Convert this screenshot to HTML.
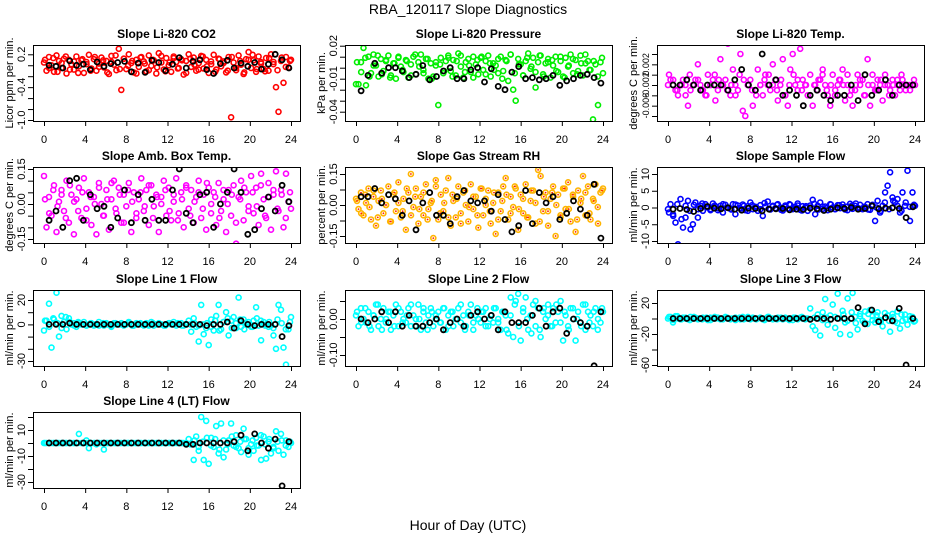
<!DOCTYPE html>
<html><head><meta charset="utf-8"><title>RBA_120117 Slope Diagnostics</title>
<style>
html,body{margin:0;padding:0;background:#fff;}
svg{display:block;font-family:"Liberation Sans",Arial,sans-serif;}
</style></head>
<body>
<svg id="chart" width="936" height="540" viewBox="0 0 936 540" xmlns="http://www.w3.org/2000/svg">
<text x="468" y="14" font-size="14" text-anchor="middle">RBA_120117  Slope Diagnostics</text>
<text x="468" y="530" font-size="14" text-anchor="middle">Hour of Day (UTC)</text>
</svg>
<script>
// ---- shared x ticks ----
const xTicks = [0,4,8,12,16,20,24];

// ---- panel 1: CO2 ----
const co2Values = [0.05,-0.1,0.15,0,-0.12,0.18,0.08,-0.05,0.12,-0.15,0.1,0.02,-0.08,0.16,-0.02,0.09,-0.14,0.06,0.19,-0.06,0.11,-0.1,0.03,0.14,-0.04,0.08,-0.16,0.17,0.01,-0.09,0.3,-0.45,0.12,-0.07,0.2,0.04,-0.13,0.1,-0.03,0.15,0.07,-0.11,0.18,-0.01,0.09,-0.15,0.22,0.05,-0.08,0.13,0,-0.12,0.16,0.06,-0.05,0.11,-0.17,0.08,0.2,-0.03,0.14,-0.1,0.04,0.17,-0.06,0.1,-0.14,0.02,0.19,-0.08,0.12,-0.02,0.07,-0.13,0.15,-0.95,0.05,-0.09,0.18,0.01,-0.16,0.11,0.24,-0.05,0.09,-0.12,0.16,0.03,-0.07,0.13,-0.1,0.2,0.06,-0.4,-0.85,0.08,-0.32,0.15,-0.04,0.1];
const co2Values2 = [0.1,-0.05,0.13,-0.12,0.04,0.16,-0.08,0.07,-0.14,0.11,0.02,-0.1,0.15,-0.03,0.09,-0.13,0.06,0.18,-0.07,0.12,-0.01,0.08,-0.15,0.14,0.03,-0.09,0.1,-0.04,0.17,-0.11,0.05,0.13,-0.06,0.09,-0.14,0.12,0.01,-0.08,0.16,-0.02,0.07,-0.12,0.11,0.04,-0.1,0.15,-0.05,0.08,-0.13,0.1,0.19,-0.07,0.06,-0.11,0.13,0.02,-0.09,0.14,-0.03,0.08];
const co2Black = [0,-0.02,-0.05,0.08,0,0.02,-0.08,0.06,-0.02,0.03,0.05,0.07,-0.12,0.04,-0.13,0.09,0.05,-0.1,0.02,0.14,-0.05,0.07,0.1,-0.08,-0.15,0.03,0.09,-0.05,0.04,-0.02,0.05,-0.07,0.02,0.2,0.1,-0.05];
const co2Ticks = [0.2,0,-0.2,-0.4,-0.6,-0.8,-1.0];
const co2TickLabels = ["0.2","-0.4","-1.0"];

// ---- panel 2: Pressure ----
const presValues = [-0.015,-0.015,0.005,0.018,-0.016,0.01,-0.005,0.012,0.002,-0.008,0.008,-0.003,0.006,0.011,-0.007,0.004,-0.01,0.009,0.001,-0.004,0.007,-0.009,0.003,0.01,-0.006,0.005,0.012,-0.002,0.008,-0.01,0.004,-0.008,0.002,-0.034,0.009,-0.005,0.006,0.011,-0.003,0.007,-0.007,0.013,0.001,-0.009,0.005,0.008,-0.004,0.01,0.003,-0.006,0.009,-0.002,0.006,0.011,-0.008,0.004,0.002,-0.005,0.01,-0.003,0.007,-0.012,0.012,-0.02,-0.03,0.008,0.003,-0.007,0.006,0.013,-0.001,0.009,-0.018,0.005,0.011,-0.006,0.004,0.008,-0.009,0.002,0.01,-0.004,0.006,-0.008,0.009,0.001,0.012,-0.005,0.007,-0.003,0.011,-0.007,0.004,0.006,-0.002,-0.047,0.003,-0.034,0.005,-0.005];
const presValues2 = [0.005,-0.004,0.009,-0.008,0.002,0.011,-0.006,0.007,-0.009,0.004,0.01,-0.002,0.006,-0.007,0.012,0.001,-0.005,0.008,-0.01,0.005,0.003,-0.003,0.009,-0.008,0.006,0.011,-0.004,0.002,-0.009,0.007,0.01,-0.006,0.004,-0.002,0.008,-0.01,0.006,0.012,-0.005,0.003,-0.007,0.009,0.001,-0.004,0.011,-0.008,0.005,0.007,-0.003,0.01,-0.009,0.002,0.008,-0.006,0.004,0.012,-0.002,0.006,-0.008,0.009];
const presBlack = [-0.021,-0.007,0.004,-0.005,0,0,-0.003,-0.009,-0.006,0.002,-0.011,-0.008,-0.003,0,-0.01,-0.01,-0.002,0,-0.013,-0.001,-0.017,-0.02,-0.004,0.001,-0.01,-0.009,-0.011,-0.01,-0.007,-0.016,-0.012,-0.01,-0.007,-0.006,-0.009,-0.014];
const presTicks = [0.02,0.01,0,-0.01,-0.02,-0.03,-0.04];
const presTickLabels = ["0.02","-0.01","-0.04"];

// ---- panel 3: Li-820 Temp ----
const tempValues = [-0.002,-0.001,-0.002,-0.003,-0.004,-0.002,-0.001,-0.002,-0.006,-0.003,-0.002,-0.001,0.002,-0.002,-0.003,-0.004,0,-0.002,-0.001,-0.005,-0.003,0.003,-0.002,-0.001,0.006,-0.004,0.001,-0.002,-0.003,0.004,-0.007,-0.008,-0.002,-0.001,-0.006,-0.003,0.001,-0.002,-0.004,0,-0.002,-0.003,0.002,-0.001,-0.005,-0.002,0.003,-0.004,-0.006,0.001,0.004,-0.002,-0.003,0.005,-0.001,-0.002,-0.004,0,-0.006,-0.002,-0.003,-0.001,0.001,-0.002,-0.004,-0.006,0,-0.003,-0.002,-0.001,0.001,-0.005,-0.002,-0.004,-0.006,-0.003,0,-0.002,-0.001,-0.004,0.003,-0.006,-0.002,-0.003,-0.001,-0.002,-0.005,0,-0.002,-0.003,-0.001,-0.004,-0.002,-0.003,-0.001,-0.002,-0.002,-0.003,-0.002,-0.002];
const tempValues2 = [0,-0.001,-0.003,-0.002,-0.004,0,-0.002,-0.001,-0.003,-0.004,-0.002,0,-0.001,-0.002,-0.003,-0.002,-0.004,0,-0.001,-0.002,-0.003,-0.004,-0.002,-0.001,0,-0.002,-0.003,-0.001,-0.004,-0.002,0,-0.001,-0.003,-0.002,-0.004,-0.002,-0.001,0,-0.003,-0.002,-0.004,-0.001,-0.002,0,-0.003,-0.002,-0.001,-0.004,-0.002,0,-0.003,-0.001,-0.002,-0.004,-0.002,-0.001,0,-0.003,-0.002,-0.001];
const tempBlack = [-0.002,-0.002,-0.001,-0.002,-0.003,-0.002,-0.002,-0.002,-0.003,-0.001,0.001,-0.002,-0.003,0.004,-0.002,-0.001,-0.004,-0.003,-0.004,-0.006,-0.004,-0.003,-0.004,-0.005,-0.004,-0.004,-0.002,-0.005,0,-0.004,-0.003,-0.001,-0.004,-0.002,-0.002,-0.002];
const tempTicks = [0.004,0.002,0,-0.002,-0.004,-0.006,-0.008];
const tempTickLabels = ["0.002","-0.002","-0.006"];

// ---- panel 4: Amb. Box Temp ----
const ambValues = [0.12,-0.1,0.03,-0.05,0.08,-0.12,0.01,0.06,-0.03,0.1,-0.08,0.04,-0.13,0.02,0.07,-0.06,0.11,-0.02,0.05,-0.09,0.03,-0.13,0.09,0,-0.05,0.06,-0.11,0.02,0.1,-0.04,0.07,-0.08,0.04,-0.01,0.09,-0.12,0.05,-0.06,0.02,0.11,-0.03,0.06,-0.09,0.08,-0.01,0.04,-0.12,0.03,0.1,-0.05,0.07,-0.07,0.01,0.11,-0.04,0.05,-0.1,0.08,-0.02,0.06,-0.08,0.03,0.1,-0.06,0.04,-0.11,0.07,0,0.05,-0.09,0.09,-0.03,0.02,-0.12,0.06,-0.05,0.08,-0.17,0.03,0.1,-0.07,0.05,-0.01,0.12,-0.04,0.07,-0.09,0.13,0.02,-0.06,0.09,-0.11,0.04,0.14,-0.03,0.06,-0.1,0.13,0.01,-0.02];
const ambValues2 = [0.02,-0.04,0.06,-0.01,0.04,-0.06,0.08,0.01,-0.03,0.05,-0.07,0.03,0,0.07,-0.05,0.02,0.09,-0.02,0.04,-0.08,0.06,0.01,-0.04,0.05,-0.01,0.08,-0.06,0.03,0,0.06,-0.03,0.04,-0.07,0.02,0.07,-0.05,0.01,0.05,-0.02,0.09,-0.04,0.03,-0.06,0.06,0,0.04,-0.08,0.02,0.07,-0.03,0.05,-0.01,0.08,-0.05,0.03,0.06,-0.02,0.04,-0.06,0.05];
const ambBlack = [-0.07,-0.03,-0.1,0.1,0.11,-0.07,0.04,-0.02,-0.01,-0.1,-0.06,0.06,-0.08,0.04,-0.07,0.02,-0.07,-0.07,0.06,0.15,-0.04,-0.08,0.04,0.05,-0.1,0,0.05,0.15,0.05,-0.13,-0.11,-0.02,0.03,-0.03,0.08,0.01];
const ambTicks = [0.15,0.1,0.05,0,-0.05,-0.1,-0.15];
const ambTickLabels = ["0.15","0.00","-0.15"];

// ---- panel 5: Gas Stream RH ----
const rhValues = [0.03,-0.02,0.06,-0.05,0.01,0.08,-0.07,0.04,-0.1,0.02,0.07,-0.04,0,0.09,-0.08,0.05,-0.03,0.11,-0.06,0.03,-0.12,0.06,0.15,-0.01,0.08,-0.09,0.04,-0.05,0.1,-0.02,0.01,-0.16,0.12,-0.07,0.05,-0.03,0.07,0.13,-0.1,0.02,-0.06,0.09,-0.04,0.06,0,-0.08,0.1,-0.02,0.04,-0.11,0.08,-0.05,0.03,0.07,-0.09,0.01,-0.14,0.06,-0.03,0.09,0.13,-0.07,0.04,-0.01,0.08,-0.12,0.05,-0.04,0.1,-0.06,0.02,0.07,-0.09,0.17,0.14,-0.03,0.06,-0.1,0.03,0.09,-0.15,0.05,-0.06,0.08,-0.02,0.11,-0.08,0.04,-0.13,0.07,0.01,0.14,-0.05,0.09,-0.07,0.03,0.1,-0.09,0.06,0.08];
const rhValues2 = [0.02,-0.04,0.05,-0.01,0.07,-0.06,0.03,0,-0.08,0.06,0.01,-0.03,0.08,-0.05,0.04,-0.02,0.06,-0.07,0.02,0.09,-0.04,0.01,-0.06,0.05,0.03,-0.09,0.07,-0.01,0.04,-0.05,0.08,0,-0.03,0.06,-0.07,0.02,0.05,-0.04,0.09,-0.02,0.03,-0.06,0.07,0.01,-0.08,0.04,-0.03,0.06,0,-0.05,0.08,-0.02,0.05,-0.07,0.03,0.06,-0.04,0.02,-0.01,0.07];
const rhBlack = [0.04,0.04,0.08,0.01,0.05,0.03,-0.05,0.02,-0.12,0.01,0.06,-0.05,-0.05,-0.09,0.04,0.07,0.02,0.01,0.02,-0.03,0.05,-0.07,-0.13,-0.1,0.07,-0.09,0.06,0.01,0.04,-0.07,-0.04,0.02,-0.02,-0.05,0.1,-0.16];
const rhTicks = [0.15,0.075,0,-0.075,-0.15];
const rhTickLabels = ["0.15","0.00","-0.15"];

// ---- panel 6: Sample Flow ----
const sampleValues = [-0.5,1,-2,-4.5,-11,2.5,-6,-3,2,-6.5,-5,1.5,-3,0.5,-1,1,0,-0.5,1.2,0.3,-0.8,0.5,-1.5,0.8,0,-0.4,1,-2,0.6,-0.3,0.9,-0.8,0.4,1.5,-0.5,0.2,-1,0.7,-2.5,0.3,1.8,-0.6,0.5,-0.2,1,0,-0.9,0.6,-0.3,0.8,-0.5,0.2,1.2,-0.7,0.4,0,-1,0.6,2.3,-2,0.5,1.5,-0.4,0.3,-0.8,1,0,-0.5,0.7,-0.2,0.9,-0.6,0.3,1.1,-0.4,0.5,-0.1,0.8,-0.5,0.2,1,-0.7,0.4,-4,2,-1.5,0.5,4.5,6.5,10.5,3,1.5,2.5,-1.5,4.5,0.5,11,-4,4.5,0.5];
const sampleValues2 = [-1.5,-2.5,1,-3.5,0.5,-1,0.8,-0.5,1.2,0.2,-0.8,0.6,-0.3,1,0,-0.6,0.9,-0.2,0.5,-1,0.7,0.1,-0.5,1.3,-0.4,0.3,0.8,-0.7,0.2,1,-0.3,0.6,-0.9,0.4,0,1.1,-0.6,0.3,-0.2,0.9,-0.5,0.7,0.1,-0.8,0.5,1.2,-0.4,0.2,-0.6,0.8,0,-1,1.5,-0.5,2,0.5,-1,1.5,0.2,0.8];
const sampleBlack = [-0.5,-0.3,-0.6,-1.2,-0.3,0.3,-0.2,-0.4,-0.1,-0.5,-0.8,-0.2,-0.3,-1,-0.5,-0.4,-0.3,-0.7,-0.5,-0.6,-0.2,-0.4,-0.9,-0.5,-0.1,-0.3,0,-0.5,-0.3,0.5,-0.4,-0.2,-0.1,-0.3,-3,0.2];
const sampleTicks = [10,5,0,-5,-10];
const sampleTickLabels = ["10","5","0","-5","-10"];

// ---- panel 7: Line 1 Flow ----
const line1Values = [-5,3,17,-19,4,26,-10,7,2,-4,5,0,1,-2,1,0,2,-1,0,1,-1,0,2,0,-1,1,0,-2,1,0,0,1,-1,0,2,0,-1,1,0,0,-1,1,0,2,-1,0,1,0,-1,0,1,0,2,-1,0,1,-1,0,3,-6,5,-2,-14,16,-8,-3,-17,4,-5,7,16,-4,2,10,-9,3,6,-3,22,-2,4,1,0,-2,3,14,-1,-13,2,0,-2,-1,-9,-20,16,12,-19,-33,-4,6];
const line1Values2 = [3,-2,5,1,-3,6,2,-1,2,0,-1,1,0,-1,1,0,-1,1,0,0,1,-1,0,1,0,-1,1,0,0,-1,1,0,1,-1,0,0,1,-1,0,1,-2,3,-5,2,5,-3,1,4,-4,2,-2,5,3,-1,2,-3,4,1,-4,2];
const line1Black = [0,0,0,1,0,0,0,0,0,0,0,0,0,0,0,0,0,0,0,0,0,0,0,-1,0,0,2,-3,3,0,-1,0,0,0,-10,-1];
const line1Ticks = [20,10,0,-10,-20,-30];
const line1TickLabels = ["20","0","-30"];

// ---- panel 8: Line 2 Flow ----
const line2Values = [0.01,-0.02,0.03,0,-0.01,0.02,-0.03,0.01,0.04,-0.02,0,0.03,-0.01,0.02,-0.03,0.01,0.04,-0.02,0.02,0,-0.01,0.03,-0.02,0.01,0,0.04,-0.03,0.02,-0.01,0.01,0.03,-0.02,0,0.02,-0.01,0.03,-0.03,0.01,0.02,-0.02,0,0.03,-0.01,0.01,-0.02,0.02,0.04,-0.03,0.01,0,-0.01,0.02,0.03,-0.02,0.01,-0.01,0.03,0,-0.03,0.02,0.01,-0.04,0.06,-0.05,0.05,0.07,-0.06,0.03,0.06,-0.03,0.01,0.04,-0.02,0.03,-0.05,0.02,0,0.04,-0.02,0.03,-0.01,0.02,0.05,-0.06,0.01,-0.02,0.03,0,-0.06,0.02,-0.01,0.04,-0.03,0.02,0.01,-0.02,0.03,0,-0.01,0.02];
const line2Values2 = [0.02,-0.01,0.03,-0.02,0.01,0.04,-0.03,0,0.02,-0.02,0.03,-0.01,0.01,0.04,-0.02,0,0.03,-0.03,0.02,0.01,-0.01,0.03,-0.02,0.02,0,0.04,-0.03,0.01,-0.01,0.03,0.02,-0.02,0,0.03,-0.01,0.02,-0.03,0.01,0.04,-0.02,0.02,0,-0.04,0.05,-0.03,0.03,0.01,-0.02,0.04,-0.01,0.02,-0.03,0.03,0,-0.02,0.04,-0.01,0.02,-0.03,0.03];
const line2Black = [0,-0.01,0,0.02,-0.01,0.02,-0.02,0.01,-0.02,-0.02,-0.01,0,-0.03,-0.01,0,-0.02,0.01,0.02,0,0.01,-0.03,0.02,-0.01,-0.01,-0.01,0.01,0.03,-0.02,0.02,0.03,-0.04,0,-0.01,-0.02,-0.13,0.02];
const line2Ticks = [0.05,0,-0.05,-0.1];
const line2TickLabels = ["0.00","-0.10"];

// ---- panel 9: Line 3 Flow ----
const line3Values = [0,2,-5,3,0,-1,1,0,-1,2,0,1,-1,0,1,0,-2,1,0,0,1,-1,0,2,0,-1,0,1,0,-1,2,0,0,-1,1,0,0,1,-1,0,2,0,-1,0,1,0,-1,1,0,0,-2,1,0,1,0,-1,0,13,-10,-15,5,-22,8,25,-8,4,18,-12,32,-20,10,-5,26,-21,33,2,-14,6,-3,9,-7,11,3,-5,8,-2,-10,1,4,-17,6,-4,9,-13,-3,5,-8,-1,2,-3];
const line3Values2 = [2,-2,3,-1,1,-2,2,0,-1,1,-2,2,0,-1,1,0,-2,1,-1,2,0,-1,1,-2,2,0,-1,1,0,-2,1,-1,2,0,-1,1,0,-2,1,-1,2,0,5,-3,8,-6,3,-5,6,-2,4,-4,7,-3,2,-6,5,-1,3,-4];
const line3Black = [0,0,0,0,0,0,0,0,0,0,0,0,0,0,0,0,0,0,0,0,-1,0,0,-1,0,0,0,14,-7,11,-4,1,-3,13,-60,0];
const line3Ticks = [20,0,-20,-40,-60];
const line3TickLabels = ["20","-20","-60"];

// ---- panel 10: Line 4 (LT) Flow ----
const line4Values = [0,0,0,0,0,0,0,0,0,0,0,0,0,0,7,0,0,2,-4,0,0,-1,0,0,-5,0,0,0,0,0,0,0,0,0,0,0,0,0,0,0,0,0,0,0,0,0,0,0,0,0,0,0,0,0,0,0,0,0,3,-1,-13,5,-6,20,-13,17,-16,4,-3,13,-8,15,-11,-5,2,15,-2,6,-4,-7,11,3,-9,-1,-6,4,-2,-13,5,-12,1,-8,-4,9,-6,7,-9,2,-3,0];
const line4Values2 = [0,0,0,0,0,0,0,0,0,0,0,0,0,0,0,0,0,0,0,0,0,0,0,0,0,0,0,0,0,0,0,0,0,0,0,-1,2,-3,1,4,-2,3,-5,2,-1,5,-3,1,3,-4,2,-2,6,-1,3,-3,1,2,-2,1];
const line4Black = [0,0,0,0,0,0,0,0,0,0,0,0,0,0,0,0,0,0,0,0,-1,-1,0,0,0,0,0,1,6,-6,7,0,-4,3,-33,1];
const line4Ticks = [20,10,0,-10,-20,-30];
const line4TickLabels = ["10","-10","-30"];

// ---- layout (not data) ----
const NS = "http://www.w3.org/2000/svg";
const svg = document.getElementById("chart");
const colLeft = [33,345,657];
const rowTop = [45,167,290,412];
const boxW = 267, boxH = 76;

const panels = [
  {name:"co2", title:"Slope Li-820 CO2", ylab:"Licor ppm per min.", r:0,c:0, vals:co2Values, vals2:co2Values2, blk:co2Black, ticks:co2Ticks, labs:co2TickLabels, ref:[0.2,9.3,-1.0,75], color:"#ff0000"},
  {name:"pressure", title:"Slope Li-820 Pressure", ylab:"kPa per min.", r:0,c:1, vals:presValues, vals2:presValues2, blk:presBlack, ticks:presTicks, labs:presTickLabels, ref:[0.02,0.7,-0.04,66.7], color:"#00ee00"},
  {name:"li820-temp", title:"Slope Li-820 Temp.", ylab:"degrees C per min.", r:0,c:2, vals:tempValues, vals2:tempValues2, blk:tempBlack, ticks:tempTicks, labs:tempTickLabels, ref:[0.004,9,-0.008,71], color:"#ff00ff", tfs:9},
  {name:"amb-box-temp", title:"Slope Amb. Box Temp.", ylab:"degrees C per min.", r:1,c:0, vals:ambValues, vals2:ambValues2, blk:ambBlack, ticks:ambTicks, labs:ambTickLabels, ref:[0.15,2,-0.15,72], color:"#ff00ff"},
  {name:"gas-stream-rh", title:"Slope Gas Stream RH", ylab:"percent per min.", r:1,c:1, vals:rhValues, vals2:rhValues2, blk:rhBlack, ticks:rhTicks, labs:rhTickLabels, ref:[0.15,7,-0.15,69], color:"#ffb400", inner:"#ff2000"},
  {name:"sample-flow", title:"Slope Sample Flow", ylab:"ml/min per min.", r:1,c:2, vals:sampleValues, vals2:sampleValues2, blk:sampleBlack, ticks:sampleTicks, labs:sampleTickLabels, ref:[10,7,-10,74], color:"#0000ff"},
  {name:"line1-flow", title:"Slope Line 1 Flow", ylab:"ml/min per min.", r:2,c:0, vals:line1Values, vals2:line1Values2, blk:line1Black, ticks:line1Ticks, labs:line1TickLabels, ref:[20,10,-30,71], color:"#00ffff"},
  {name:"line2-flow", title:"Slope Line 2 Flow", ylab:"ml/min per min.", r:2,c:1, vals:line2Values, vals2:line2Values2, blk:line2Black, ticks:line2Ticks, labs:line2TickLabels, ref:[0,29,-0.1,65], color:"#00ffff"},
  {name:"line3-flow", title:"Slope Line 3 Flow", ylab:"ml/min per min.", r:2,c:2, vals:line3Values, vals2:line3Values2, blk:line3Black, ticks:line3Ticks, labs:line3TickLabels, ref:[20,13,-60,75], color:"#00ffff"},
  {name:"line4-flow", title:"Slope Line 4 (LT) Flow", ylab:"ml/min per min.", r:3,c:0, vals:line4Values, vals2:line4Values2, blk:line4Black, ticks:line4Ticks, labs:line4TickLabels, ref:[20,5,-30,70], color:"#00ffff"}
];

function mk(tag, attrs, parent){
  const e = document.createElementNS(NS, tag);
  for (const k in attrs) e.setAttribute(k, attrs[k]);
  (parent||svg).appendChild(e);
  return e;
}

panels.forEach(p => {
  const L = colLeft[p.c], T = rowTop[p.r], B = T + boxH;
  const g = mk("g", {});
  
  
  const x = t => L + 11 + t * (247/24);
  const y = v => T + p.ref[1] + (v - p.ref[0]) * (p.ref[3] - p.ref[1]) / (p.ref[2] - p.ref[0]);

  const clip = mk("clipPath", {id:"clip-"+p.name}, g);
  mk("rect", {x:L, y:T, width:boxW, height:boxH}, clip);

  // colored points
  const cg = mk("g", {"clip-path":"url(#clip-"+p.name+")"}, g);
  
  
  function drawSeries(arr, t0, t1){
    const n = arr.length;
    arr.forEach((v, i) => {
      const t = t0 + i * (t1 - t0) / (n - 1);
      const c = mk("circle", {cx:x(t).toFixed(1), cy:y(v).toFixed(1), r:2.5, fill:"none", stroke:p.color, "stroke-width":1.6}, cg);
      
      
      if (p.inner) {
        const d = mk("circle", {cx:x(t).toFixed(1), cy:y(v).toFixed(1), r:0.9, fill:p.inner}, cg);
        
        
      }
    });
  }
  drawSeries(p.vals, 0, 24);
  drawSeries(p.vals2, 0.1, 23.9);

  // black points
  const bg = mk("g", {"clip-path":"url(#clip-"+p.name+")"}, g);
  
  
  const m = p.blk.length;
  p.blk.forEach((v, i) => {
    const t = 0.5 + i * 23.3 / (m - 1);
    const c = mk("circle", {cx:x(t).toFixed(1), cy:y(v).toFixed(1), r:2.5, fill:"none", stroke:"#000", "stroke-width":1.8}, bg);
    
    
  });

  // box
  const box = mk("rect", {x:L+0.5, y:T+0.5, width:boxW, height:boxH, fill:"none", stroke:"#000", "stroke-width":1}, g);
  
  

  // title
  const tt = mk("text", {x:L + boxW/2, y:T - 7, "font-size":12, "font-weight":"bold", "text-anchor":"middle"}, g);
  tt.textContent = p.title;
  
  

  // x axis
  const xa = mk("g", {}, g);
  
  
  mk("line", {x1:x(0), x2:x(24), y1:B+0.5, y2:B+0.5, stroke:"#000"}, xa);
  xTicks.forEach(tv => {
    mk("line", {x1:x(tv)+0.5, x2:x(tv)+0.5, y1:B, y2:B+5, stroke:"#000"}, xa);
    const lt = mk("text", {x:x(tv), y:B+22, "font-size":11, "text-anchor":"middle"}, xa);
    lt.textContent = tv;
    
    
  });

  // y axis
  const ya = mk("g", {}, g);
  
  
  const ys = p.ticks.map(y);
  mk("line", {x1:L+0.5, x2:L+0.5, y1:Math.min(...ys), y2:Math.max(...ys), stroke:"#000"}, ya);
  p.ticks.forEach(tv => {
    mk("line", {x1:L-5, x2:L, y1:y(tv)+0.5, y2:y(tv)+0.5, stroke:"#000"}, ya);
  });
  p.labs.forEach(s => {
    const yy = y(parseFloat(s));
    const lt = mk("text", {x:0, y:0, "font-size":p.tfs||11, "text-anchor":"middle", transform:"translate("+(L-8)+","+yy+") rotate(-90)"}, ya);
    lt.textContent = s;
    
    
  });
  const yl = mk("text", {x:0, y:0, "font-size":11, "text-anchor":"middle", transform:"translate("+(L-20)+","+(T+boxH/2)+") rotate(-90)"}, g);
  yl.textContent = p.ylab;
  
  
});
</script>
</body></html>
